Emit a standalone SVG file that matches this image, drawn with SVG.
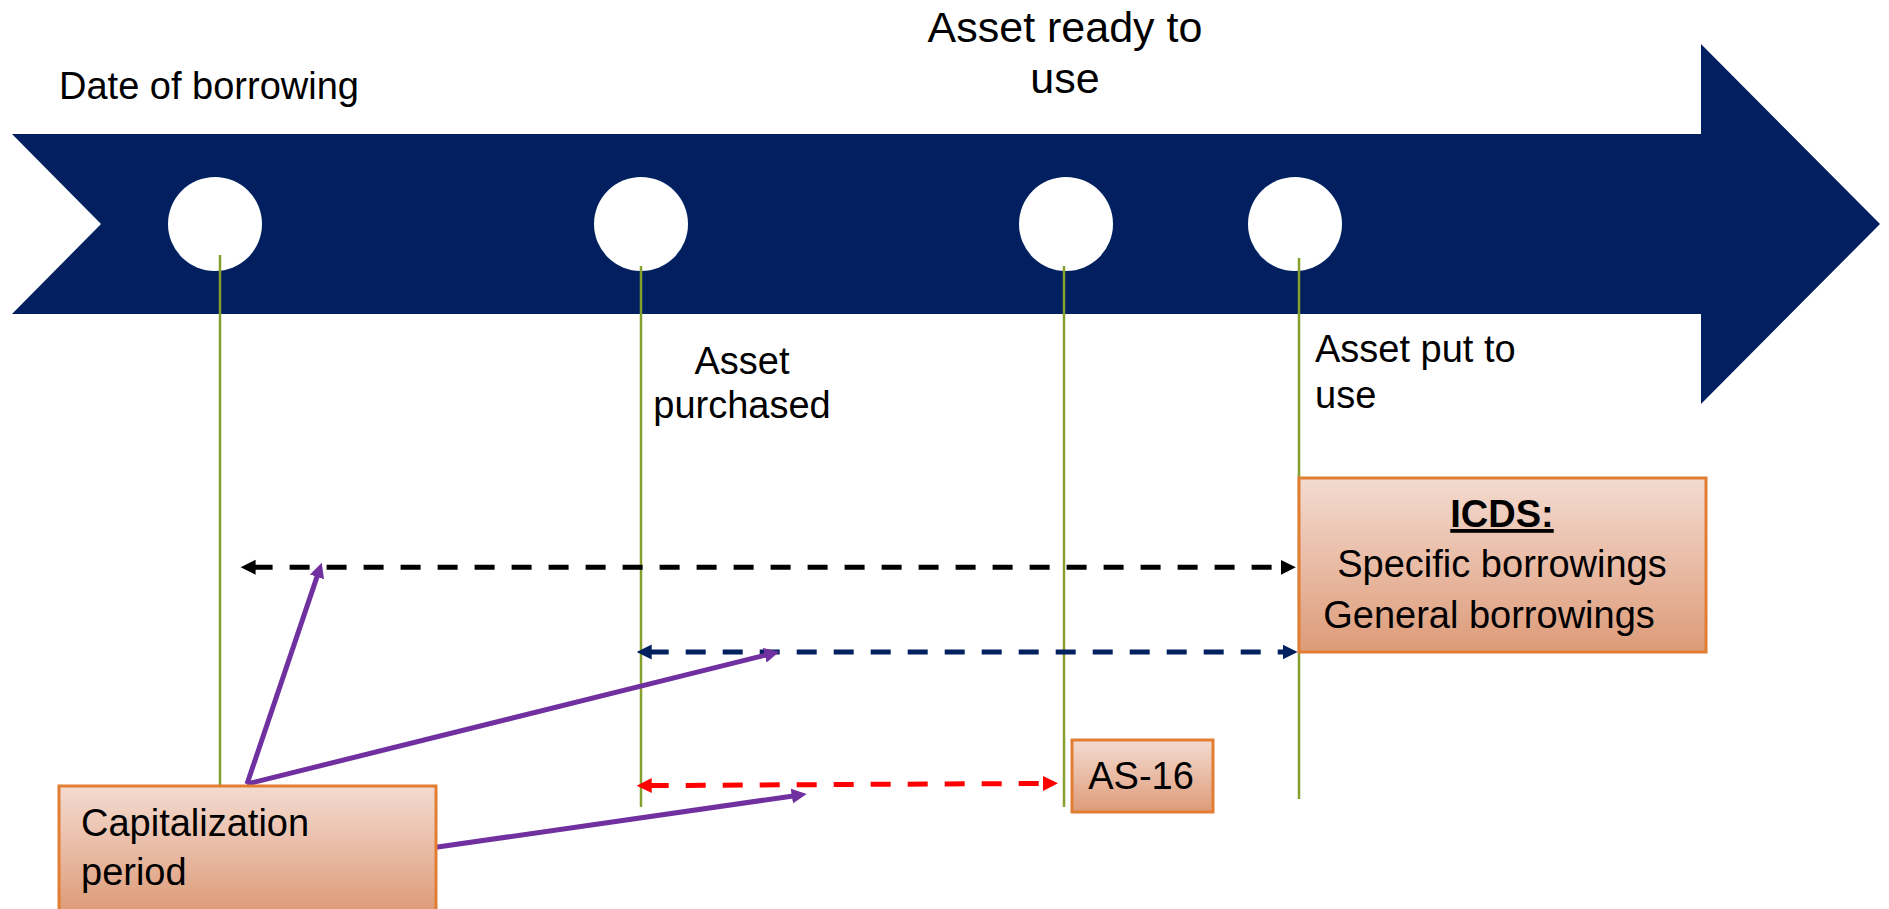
<svg xmlns="http://www.w3.org/2000/svg" width="1889" height="909" viewBox="0 0 1889 909">
  <defs>
    <linearGradient id="boxGrad" x1="0" y1="0" x2="0" y2="1">
      <stop offset="0" stop-color="#F3DBD0"/>
      <stop offset="0.5" stop-color="#E9BBA5"/>
      <stop offset="1" stop-color="#DD9B78"/>
    </linearGradient>
    <marker id="mBlack" markerUnits="userSpaceOnUse" markerWidth="16" markerHeight="16" refX="3" refY="8" orient="auto-start-reverse" viewBox="0 0 16 16">
      <path d="M0,0.5 L15,8 L0,15.5 z" fill="#000000"/>
    </marker>
    <marker id="mNavy" markerUnits="userSpaceOnUse" markerWidth="16" markerHeight="16" refX="3" refY="8" orient="auto-start-reverse" viewBox="0 0 16 16">
      <path d="M0,0.5 L15,8 L0,15.5 z" fill="#002060"/>
    </marker>
    <marker id="mRed" markerUnits="userSpaceOnUse" markerWidth="16" markerHeight="16" refX="3" refY="8" orient="auto-start-reverse" viewBox="0 0 16 16">
      <path d="M0,0.5 L15,8 L0,15.5 z" fill="#FF0000"/>
    </marker>
    <marker id="mPurple" markerUnits="userSpaceOnUse" markerWidth="16" markerHeight="16" refX="3" refY="8" orient="auto" viewBox="0 0 16 16">
      <path d="M0,0.5 L15,8 L0,15.5 z" fill="#7030A0"/>
    </marker>
  </defs>
  <style>
    .lbl { font-family: "Liberation Sans", Arial, sans-serif; font-size: 38px; fill: #000000; }
    .big { font-size: 43px; }
    .box { fill: url(#boxGrad); stroke: #E27D34; stroke-width: 3; }
    .vline { stroke: #86A02E; stroke-width: 2.5; fill: none; }
    .dash { fill: none; stroke-width: 5; stroke-dasharray: 20 17; }
    .purple { fill: none; stroke: #7030A0; stroke-width: 5; marker-end: url(#mPurple); }
  </style>
  <rect width="1889" height="909" fill="#FFFFFF"/>

  <g id="timeline">
    <polygon points="12,134 1701,134 1701,44 1880,224 1701,404 1701,314 12,314 101,224" fill="#022060"/>
    <circle cx="215" cy="224" r="47" fill="#FFFFFF"/>
    <circle cx="641" cy="224" r="47" fill="#FFFFFF"/>
    <circle cx="1066" cy="224" r="47" fill="#FFFFFF"/>
    <circle cx="1295" cy="224" r="47" fill="#FFFFFF"/>
  </g>

  <g id="markers-lines">
    <line class="vline" x1="220" y1="255" x2="220" y2="786"/>
    <line class="vline" x1="641" y1="266" x2="641" y2="807"/>
    <line class="vline" x1="1064" y1="266" x2="1064" y2="807"/>
    <line class="vline" x1="1299" y1="258" x2="1299" y2="799"/>
  </g>

  <g id="labels">
    <text class="lbl" x="59" y="99">Date of borrowing</text>
    <text class="lbl big" x="1065" y="42" text-anchor="middle">Asset ready to</text>
    <text class="lbl big" x="1065" y="93" text-anchor="middle">use</text>
    <text class="lbl" x="742" y="374" text-anchor="middle">Asset</text>
    <text class="lbl" x="742" y="418" text-anchor="middle">purchased</text>
    <text class="lbl" x="1315" y="362">Asset put to</text>
    <text class="lbl" x="1315" y="408">use</text>
  </g>

  <g id="connectors">
    <line class="dash" stroke="#000000" x1="252.6" y1="567.3" x2="1283.8" y2="567.3" marker-start="url(#mBlack)" marker-end="url(#mBlack)"/>
    <line class="dash" stroke="#002060" x1="648.7" y1="652" x2="1285.6" y2="652" marker-start="url(#mNavy)" marker-end="url(#mNavy)"/>
    <line class="dash" stroke="#FF0000" x1="648.7" y1="785.6" x2="1046" y2="783.4" marker-start="url(#mRed)" marker-end="url(#mRed)"/>
    <line class="purple" x1="247" y1="784" x2="317.9" y2="574.1"/>
    <line class="purple" x1="247" y1="784" x2="767.7" y2="654.6"/>
    <line class="purple" x1="435.8" y1="847.3" x2="794.8" y2="795.7"/>
  </g>

  <g id="icds">
    <rect class="box" x="1299" y="478" width="407" height="174"/>
    <text class="lbl" x="1502" y="527" text-anchor="middle" font-weight="bold" font-size="34" text-decoration="underline">ICDS:</text>
    <text class="lbl" x="1502" y="577" text-anchor="middle">Specific borrowings</text>
    <text class="lbl" x="1489" y="628" text-anchor="middle">General borrowings</text>
  </g>

  <g id="as16">
    <rect class="box" x="1072" y="740" width="141" height="72"/>
    <text class="lbl" x="1141" y="789" text-anchor="middle" font-size="36">AS-16</text>
  </g>

  <g id="capitalization">
    <rect class="box" x="59" y="786" width="377" height="126"/>
    <text class="lbl" x="81" y="836">Capitalization</text>
    <text class="lbl" x="81" y="885">period</text>
  </g>
</svg>
